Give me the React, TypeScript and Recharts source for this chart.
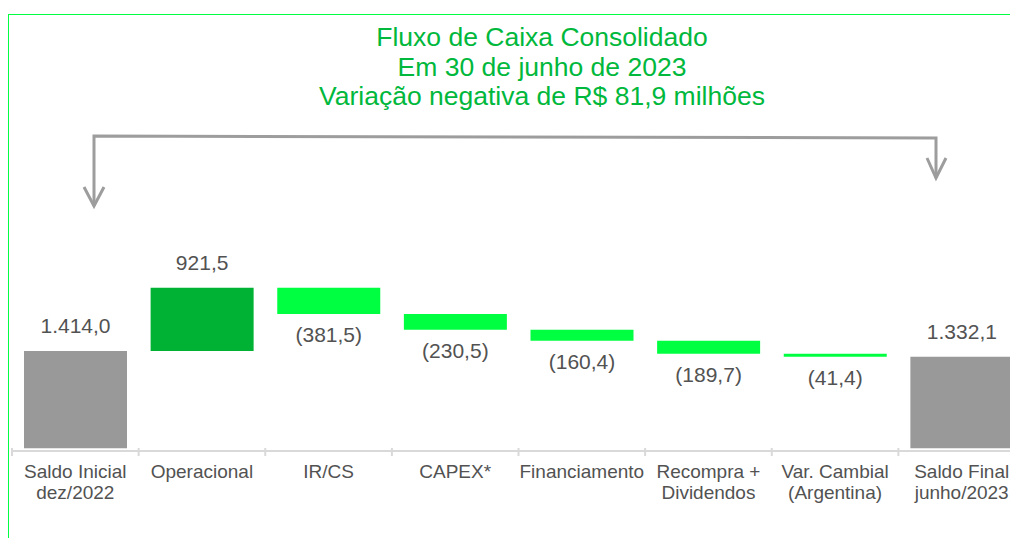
import { BarChart, Bar, XAxis, YAxis, Cell, LabelList } from "recharts";

const categories = [
  ["Saldo Inicial", "dez/2022"],
  ["Operacional"],
  ["IR/CS"],
  ["CAPEX*"],
  ["Financiamento"],
  ["Recompra +", "Dividendos"],
  ["Var. Cambial", "(Argentina)"],
  ["Saldo Final", "junho/2023"],
];
const amounts = [1414.0, 921.5, -381.5, -230.5, -160.4, -189.7, -41.4, 1332.1];
const kinds = ["total", "up", "down", "down", "down", "down", "down", "total"];
const titleLines = [
  "Fluxo de Caixa Consolidado",
  "Em 30 de junho de 2023",
  "Variação negativa de R$ 81,9 milhões",
];

const FONT = '"Liberation Sans", Arial, sans-serif';
const TEXT = "#525252";
const COLORS: Record<string, string> = { total: "#999999", up: "#00b233", down: "#00ff41" };

const CHART_W = 1017;
const MARGIN = { top: 234, right: 0, left: 4, bottom: 27 };
const BAND = (CHART_W - MARGIN.left - MARGIN.right) / categories.length;

// running total -> invisible base + visible step
let running = 0;
const data = categories.map((c, i) => {
  const v = amounts[i];
  let base = 0;
  let step = 0;
  if (kinds[i] === "total") {
    step = v;
    running = v;
  } else if (v >= 0) {
    base = running;
    step = v;
    running += v;
  } else {
    base = running + v;
    step = -v;
    running += v;
  }
  return { name: c.join(" "), base, step };
});

function fmt(v: number) {
  const [int, dec] = Math.abs(v).toFixed(1).split(".");
  const s = int.replace(/\B(?=(\d{3})+(?!\d))/g, ".") + "," + dec;
  return v < 0 ? `(${s})` : s;
}

function ValueLabel(props: any) {
  const { x, y, width, height, index } = props;
  const v = amounts[index];
  const cx = x + width / 2;
  const ty = v < 0 && kinds[index] !== "total" ? y + height + 28 : y - 18;
  return (
    <text x={cx} y={ty} textAnchor="middle" fontSize={21} fontFamily={FONT} fill={TEXT}>
      {fmt(v)}
    </text>
  );
}

function CategoryTick(props: any) {
  const { x, y, payload, index } = props;
  const i = payload?.index ?? index;
  const lines = categories[i] || [];
  return (
    <g>
      <line x1={x - BAND / 2} x2={x - BAND / 2} y1={y - 3} y2={y + 5} stroke="#d9d9d9" strokeWidth={2} />
      {i === categories.length - 1 && (
        <line x1={x + BAND / 2} x2={x + BAND / 2} y1={y - 3} y2={y + 5} stroke="#d9d9d9" strokeWidth={2} />
      )}
      <text x={x} y={y + 27} textAnchor="middle" fontSize={19} fontFamily={FONT} fill={TEXT}>
        {lines.map((l, k) => (
          <tspan key={k} x={x} dy={k === 0 ? 0 : 20.5}>
            {l}
          </tspan>
        ))}
      </text>
    </g>
  );
}

export default function App() {
  return (
    <div
      style={{
        position: "fixed",
        left: 0,
        top: 0,
        width: 1010,
        height: 538,
        overflow: "hidden",
        background: "#fff",
        fontFamily: FONT,
      }}
    >
      <div
        style={{
          position: "absolute",
          left: 8,
          top: 14,
          width: 1100,
          height: 600,
          border: "1px solid #00ff40",
        }}
      />
      <div
        style={{
          position: "absolute",
          left: 0,
          top: 23,
          width: 1084,
          textAlign: "center",
          color: "#00b83c",
          fontSize: 26.5,
          lineHeight: "29.5px",
        }}
      >
        {titleLines.map((t) => (
          <div key={t}>{t}</div>
        ))}
      </div>
      <svg style={{ position: "absolute", left: 0, top: 0 }} width={1010} height={538}>
        <g fill="none" stroke="#9d9d9d" strokeWidth={3}>
          <polyline points="94,206 94,136 936,138 936,178" />
          <polyline points="84,187 94,206 104,187" />
          <polyline points="927,158 936,178 946,158" />
        </g>
      </svg>
      <div style={{ position: "absolute", left: 8, top: 8 }}>
        <BarChart width={CHART_W} height={530} data={data} margin={MARGIN} barCategoryGap={12}>
          <YAxis hide domain={[-40, 3000]} allowDataOverflow />
          <XAxis
            dataKey="name"
            height={60}
            interval={0}
            tickSize={0}
            tickMargin={0}
            tickLine={false}
            axisLine={{ stroke: "#d9d9d9", strokeWidth: 2 }}
            tick={<CategoryTick />}
          />
          <Bar dataKey="base" stackId="w" fill="transparent" isAnimationActive={false} />
          <Bar dataKey="step" stackId="w" isAnimationActive={false}>
            {data.map((d, i) => (
              <Cell key={d.name} fill={COLORS[kinds[i]]} />
            ))}
            <LabelList dataKey="step" content={<ValueLabel />} />
          </Bar>
        </BarChart>
      </div>
    </div>
  );
}
